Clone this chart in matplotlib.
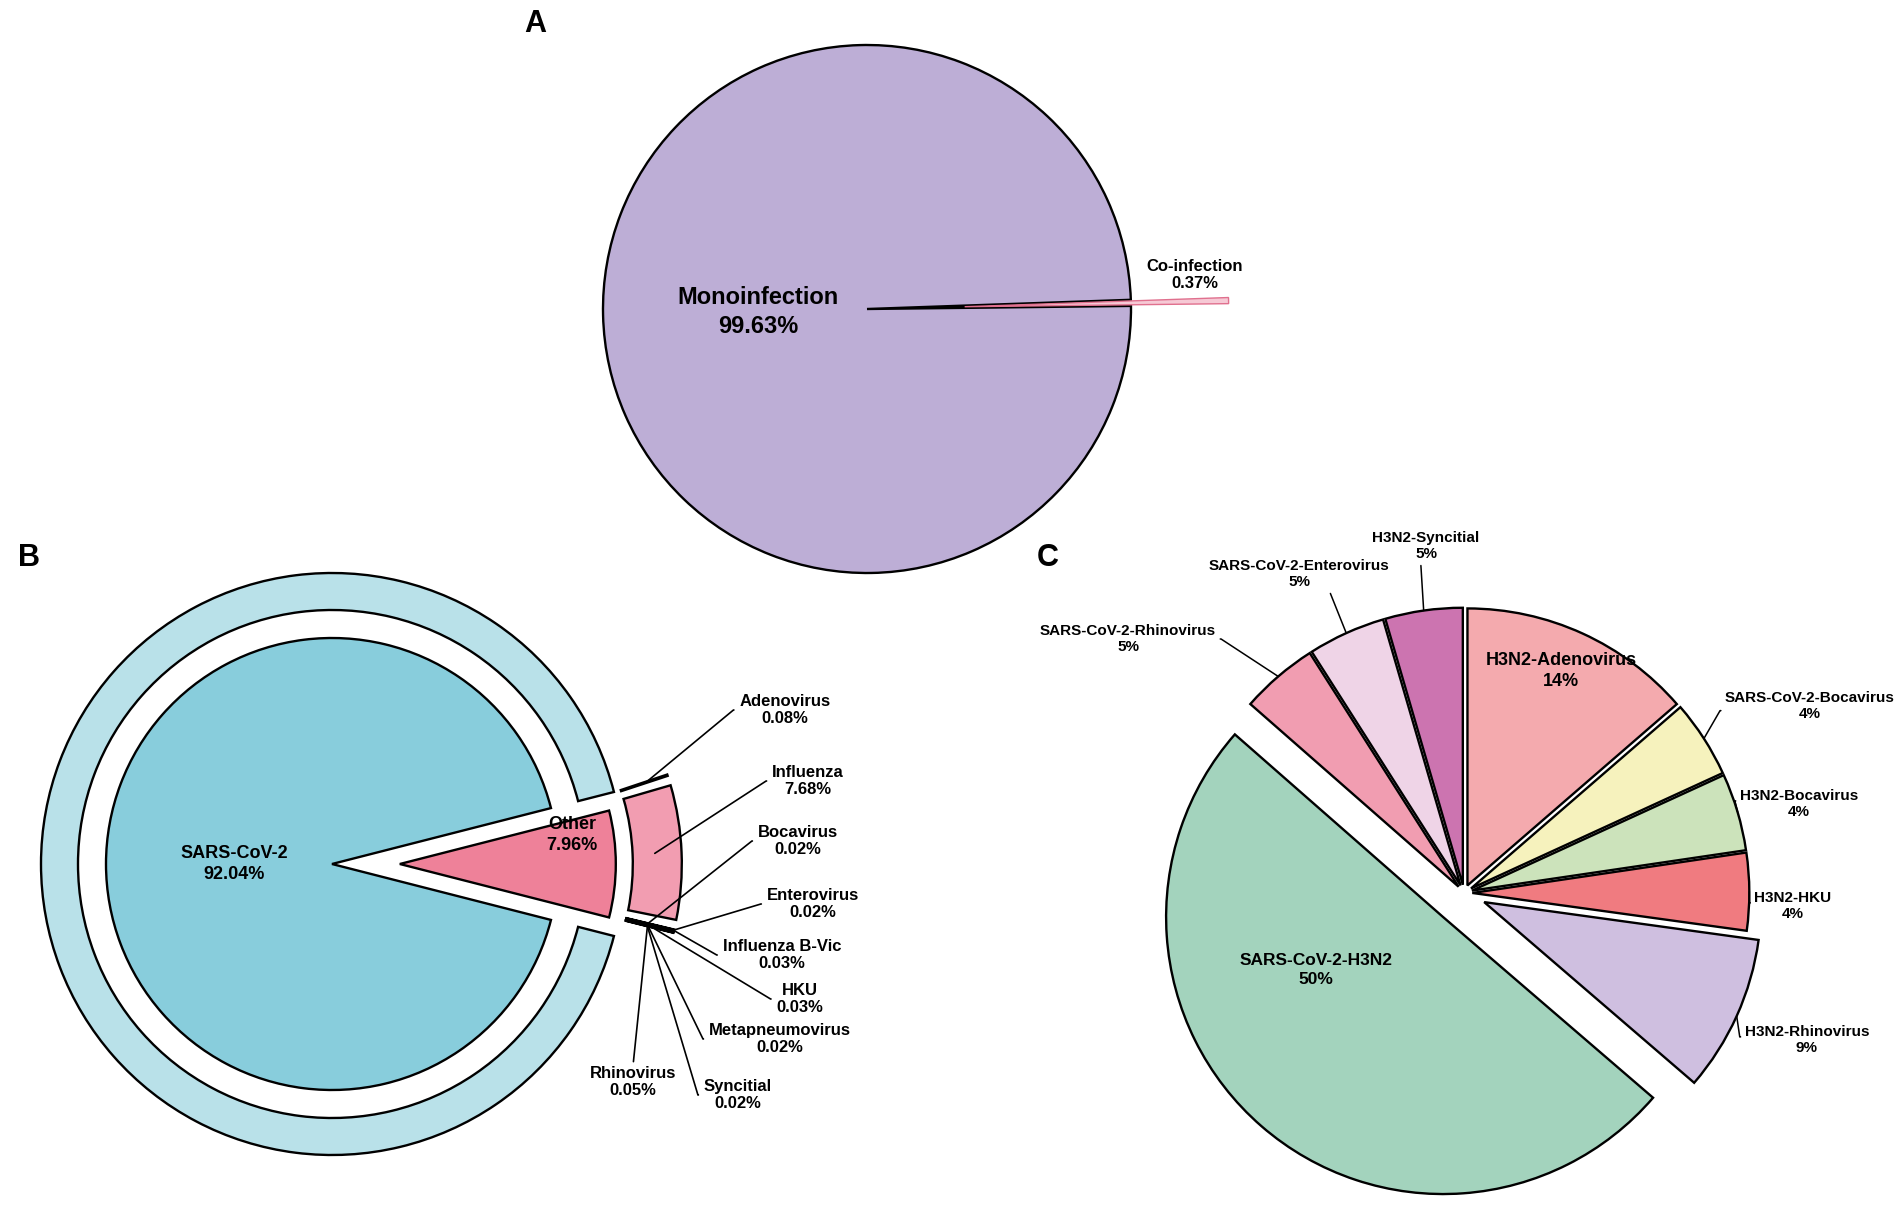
import numpy as np
import matplotlib.pyplot as plt
from matplotlib.patches import Wedge

plt.rcParams['font.family'] = ['Liberation Sans Narrow', 'Liberation Sans', 'DejaVu Sans']
plt.rcParams['font.weight'] = 'bold'

W, H = 1902, 1208

# panel A
a_names = ['Monoinfection', 'Co-infection']
a_pct = [99.63, 0.37]

# panel B
b_names = ['SARS-CoV-2', 'Other']
b_pct = [92.04, 7.96]
other_names = ['Adenovirus', 'Influenza', 'Bocavirus', 'Enterovirus', 'Influenza B-Vic',
               'HKU', 'Metapneumovirus', 'Rhinovirus', 'Syncitial']
other_pct = [0.08, 7.68, 0.02, 0.02, 0.03, 0.03, 0.02, 0.05, 0.02]

# panel C
c_names = ['H3N2-Adenovirus', 'SARS-CoV-2-Bocavirus', 'H3N2-Bocavirus', 'H3N2-HKU',
           'H3N2-Rhinovirus', 'SARS-CoV-2-H3N2', 'SARS-CoV-2-Rhinovirus',
           'SARS-CoV-2-Enterovirus', 'H3N2-Syncitial']
c_share = [13.6, 4.5, 4.5, 4.5, 9.1, 50.0, 4.5, 4.5, 4.5]
c_label = ['14%', '4%', '4%', '4%', '9%', '50%', '5%', '5%', '5%']


def P(x, y):
    # picture coords (y down) -> axes data coords (y up)
    return (x, H - y)


def rim(w, frac=1.0):
    a = np.deg2rad((w.theta1 + w.theta2) / 2)
    r = w.r * frac
    return (w.center[0] + r * np.cos(a), w.center[1] + r * np.sin(a))


fig = plt.figure(figsize=(W / 100, H / 100), dpi=100)
ax = fig.add_axes([0, 0, 1, 1])
edge = dict(edgecolor='black', linewidth=1.7)

# ---------------- A ----------------
ra = 264
wa, _ = ax.pie(a_pct, colors=['#bdaed6', '#f6c9d5'], startangle=2.0,
               explode=[0, 0.37 * ra], center=P(867, 309), radius=ra, wedgeprops=edge)
wa[1].set_edgecolor('#e0708e')
wa[1].set_linewidth(1.0)
ax.text(*P(758, 312), a_names[0] + '\n' + f'{a_pct[0]:.2f}%', fontsize=17,
        ha='center', va='center', linespacing=1.3)
ax.text(*P(1195, 275), a_names[1] + '\n' + f'{a_pct[1]:.2f}%', fontsize=12,
        ha='center', va='center', linespacing=1.2)

# ---------------- B ----------------
cB = P(332, 864)
rb = 226
half = b_pct[1] * 3.6 / 2
wb, _ = ax.pie(b_pct, colors=['#88cddc', '#ee8199'], startangle=half,
               explode=[0, 0.30 * rb], center=cB, radius=rb, wedgeprops=edge)
wb[1].set_radius(216)
ax.pie([b_pct[0] / 100], colors=['#b9e1e9'], startangle=half, normalize=False,
       center=cB, radius=291, wedgeprops=dict(width=37, **edge))

oc = wb[1].center
gap = 2.0
cur = 18.5
sub = []
for i, v in enumerate(other_pct):
    t1 = cur - v * 3.6
    w = Wedge(oc, 282, t1, cur, width=49, facecolor='#f29db1' if v > 1 else 'black', **edge)
    ax.add_patch(w)
    sub.append(w)
    cur = t1
    if i < 2:
        cur -= gap

ax.text(*P(234, 864), b_names[0] + '\n' + f'{b_pct[0]:.2f}%', fontsize=13,
        ha='center', va='center', linespacing=1.3)
ax.text(*P(572, 835), b_names[1] + '\n' + f'{b_pct[1]:.2f}%', fontsize=13,
        ha='center', va='center', linespacing=1.3)

b_txt = [(785, 710), (808, 781), (798, 841), (813, 904), (782, 955),
         (800, 999), (780, 1039), (633, 1082), (738, 1095)]
b_tfrac = [0.92, 0.905, 0.905, 1.0, 1.0, 0.905, 0.905, 0.905, 0.905]
for i, name in enumerate(other_names):
    tgt = rim(sub[i], b_tfrac[i])
    if name == 'Rhinovirus':
        ap = dict(arrowstyle='-', lw=1.2, color='black', shrinkA=1, shrinkB=0,
                  relpos=(0.5, 1.0))
    else:
        ap = dict(arrowstyle='-', lw=1.2, color='black', shrinkA=2, shrinkB=0,
                  relpos=(0.0, 0.5),
                  connectionstyle='arc,angleA=180,armA=6,angleB=0,armB=0,rad=0')
    ax.annotate(name + '\n' + f'{other_pct[i]:.2f}%', xy=tgt, xytext=P(*b_txt[i]),
                fontsize=12, ha='center', va='center', linespacing=1.2, arrowprops=ap)

# ---------------- C ----------------
rc = 277
c_colors = ['#f4aaae', '#f6f2bd', '#cce3bb', '#f07b80', '#cfbfe0',
            '#a3d3bd', '#f19db1', '#efd4e7', '#cc74b0']
c_explode = [0.03, 0.03, 0.03, 0.03, 0.08, 0.115, 0.03, 0.03, 0.03]
wc, _ = ax.pie(c_share, colors=c_colors, startangle=90, counterclock=False,
               explode=[e * rc for e in c_explode], center=P(1464, 893), radius=rc,
               wedgeprops=edge)

ax.text(*P(1561, 671), c_names[0] + '\n' + c_label[0], fontsize=13,
        ha='center', va='center', linespacing=1.3)
ax.text(*P(1316, 970), c_names[5] + '\n' + c_label[5], fontsize=12.5,
        ha='center', va='center', linespacing=1.3)

c_txt = {1: (1810, 706), 2: (1799, 804), 3: (1793, 906), 4: (1807, 1040),
         6: (1128, 639), 7: (1299, 574), 8: (1426, 546)}
c_rel = {1: (0.0, 0.35), 2: (0.0, 0.6), 3: (0.0, 0.6), 4: (0.0, 0.6),
         6: (1.0, 0.5), 7: (0.62, 0.25), 8: (0.45, 0.0)}
for i, pos in c_txt.items():
    rp = c_rel[i]
    if i == 8:
        cs = 'arc3'
    elif rp[0] > 0.5:
        cs = 'arc,angleA=0,armA=5,angleB=0,armB=0,rad=0'
    else:
        cs = 'arc,angleA=180,armA=5,angleB=0,armB=0,rad=0'
    ax.annotate(c_names[i] + '\n' + c_label[i], xy=rim(wc[i]), xytext=P(*pos),
                fontsize=11, ha='center', va='center', linespacing=1.25,
                arrowprops=dict(arrowstyle='-', lw=1.1, color='black', shrinkA=1,
                                shrinkB=0, relpos=rp, connectionstyle=cs))

# panel letters
for letter, pos in [('A', (524, 24)), ('B', (18, 558)), ('C', (1037, 558))]:
    ax.text(*P(*pos), letter, fontsize=22, fontweight='bold', ha='left', va='center',
            family=['Liberation Sans', 'DejaVu Sans'])

ax.set_xlim(0, W)
ax.set_ylim(0, H)
ax.set_aspect('equal')
ax.axis('off')
fig.savefig('out.png', dpi=100, facecolor='white')
